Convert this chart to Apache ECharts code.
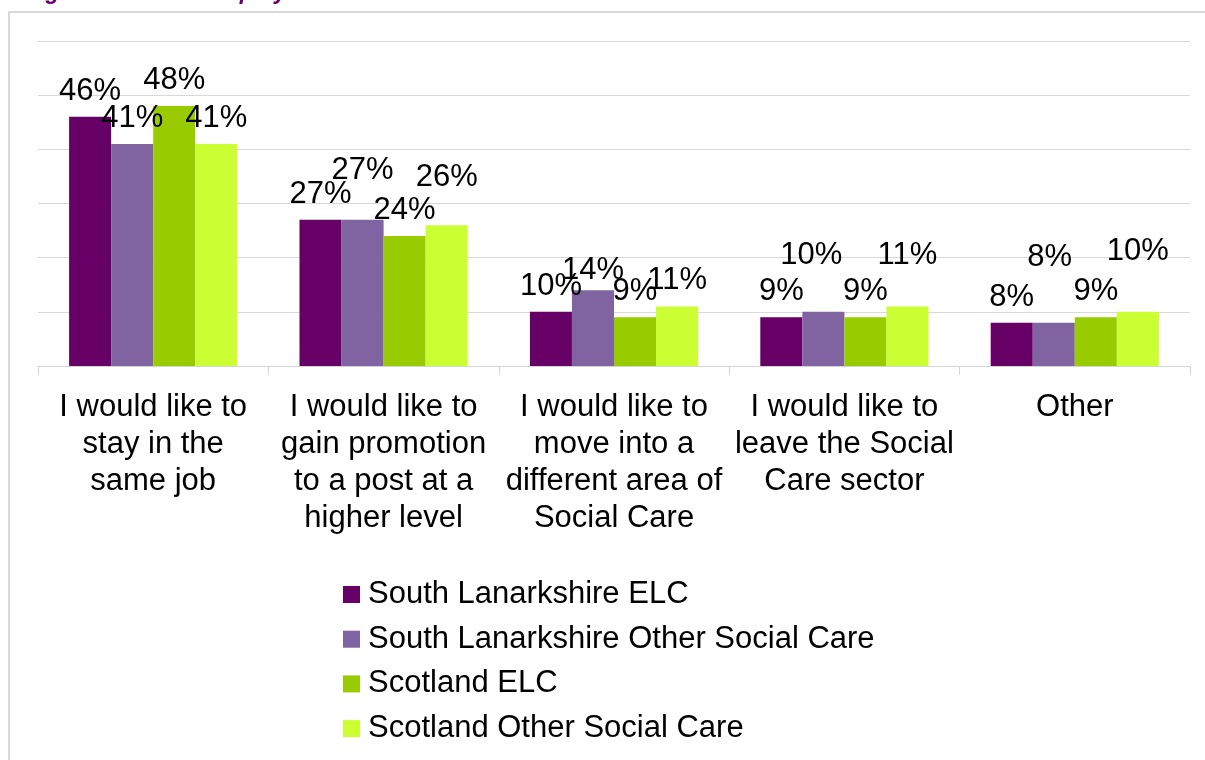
<!DOCTYPE html>
<html>
<head>
<meta charset="utf-8">
<script src="https://cdn.jsdelivr.net/npm/echarts@6/dist/echarts.min.js"></script>
<style>
  html, body { margin: 0; padding: 0; background: #fff; }
  #chart { width: 1205px; height: 760px; }
</style>
</head>
<body>
<div id="chart"></div>
<script>
// categories on the x axis
var categories = [
  'I would like to\nstay in the\nsame job',
  'I would like to\ngain promotion\nto a post at a\nhigher level',
  'I would like to\nmove into a\ndifferent area of\nSocial Care',
  'I would like to\nleave the Social\nCare sector',
  'Other'
];
var seriesNames = [
  'South Lanarkshire ELC',
  'South Lanarkshire Other Social Care',
  'Scotland ELC',
  'Scotland Other Social Care'
];
// values in percent
var slElc = [46, 27, 10, 9, 8];
var slOther = [41, 27, 14, 10, 8];
var scotElc = [48, 24, 9, 9, 9];
var scotOther = [41, 26, 11, 11, 10];
var colors = ['#660066', '#8064a2', '#99cc00', '#ccff33'];

// hand-moved data labels in the original (pixel nudges, [x, y])
var labelNudge = [
  [[0, 0], [0, 0], [0, 0], [0, 0], [0, 0]],
  [[0, 0], [0, -24], [0, 6], [-12, -31], [-4, -40]],
  [[0, 0], [0, 0], [0, 0], [0, 0], [0, 0]],
  [[0, 0], [0, -22], [0, 0], [0, -25], [0, -35]]
];

var font = '"Liberation Sans", Arial, sans-serif';
var myChart = echarts.init(document.getElementById('chart'));

// one bar series per group
var series = [slElc, slOther, scotElc, scotOther].map(function (vals, i) {
  return {
    name: seriesNames[i],
    type: 'bar',
    data: vals.map(function (v, j) {
      return { value: v, label: { offset: labelNudge[i][j] } };
    }),
    barGap: '0%',
    barCategoryGap: '27%',
    itemStyle: { color: colors[i] },
    label: {
      show: true,
      position: 'top',
      distance: 10,
      formatter: '{c}%',
      color: '#000',
      fontSize: 31,
      fontFamily: font
    }
  };
});

var option = {
  animation: false,
  color: colors,
  graphic: [
    {
      type: 'rect',
      shape: { x: 9, y: 12, width: 1220, height: 780 },
      style: { fill: 'none', stroke: '#d9d9d9', lineWidth: 2 },
      silent: true
    },
    {
      // title, cut off at the top of the picture: only descenders show
      type: 'text',
      x: 25,
      y: -7,
      style: {
        text: 'Figure 9: Future employment',
        fill: '#660066',
        font: 'italic bold 23px ' + font,
        verticalAlign: 'middle'
      },
      silent: true
    }
  ],
  grid: { left: 38, right: 15, top: 41, bottom: 394 },
  legend: {
    orient: 'vertical',
    left: 343,
    top: 579,
    padding: 0,
    itemWidth: 17,
    itemHeight: 17,
    itemGap: 13.7,
    icon: 'rect',
    data: seriesNames,
    textStyle: {
      fontSize: 31,
      lineHeight: 31,
      fontFamily: font,
      color: '#000',
      padding: [0, 0, 0, 3]
    }
  },
  xAxis: {
    type: 'category',
    data: categories,
    axisLine: { lineStyle: { color: '#d4d4d4', width: 1 } },
    axisTick: { show: true, length: 9, lineStyle: { color: '#d4d4d4' } },
    axisLabel: {
      interval: 0,
      margin: 23,
      fontSize: 31,
      lineHeight: 37,
      fontFamily: font,
      color: '#000'
    }
  },
  yAxis: {
    type: 'value',
    min: 0,
    max: 60,
    interval: 10,
    axisLabel: { show: false },
    axisLine: { show: false },
    axisTick: { show: false },
    splitLine: { lineStyle: { color: '#d9d9d9', width: 1 } }
  },
  series: series
};

myChart.setOption(option);
</script>
</body>
</html>
